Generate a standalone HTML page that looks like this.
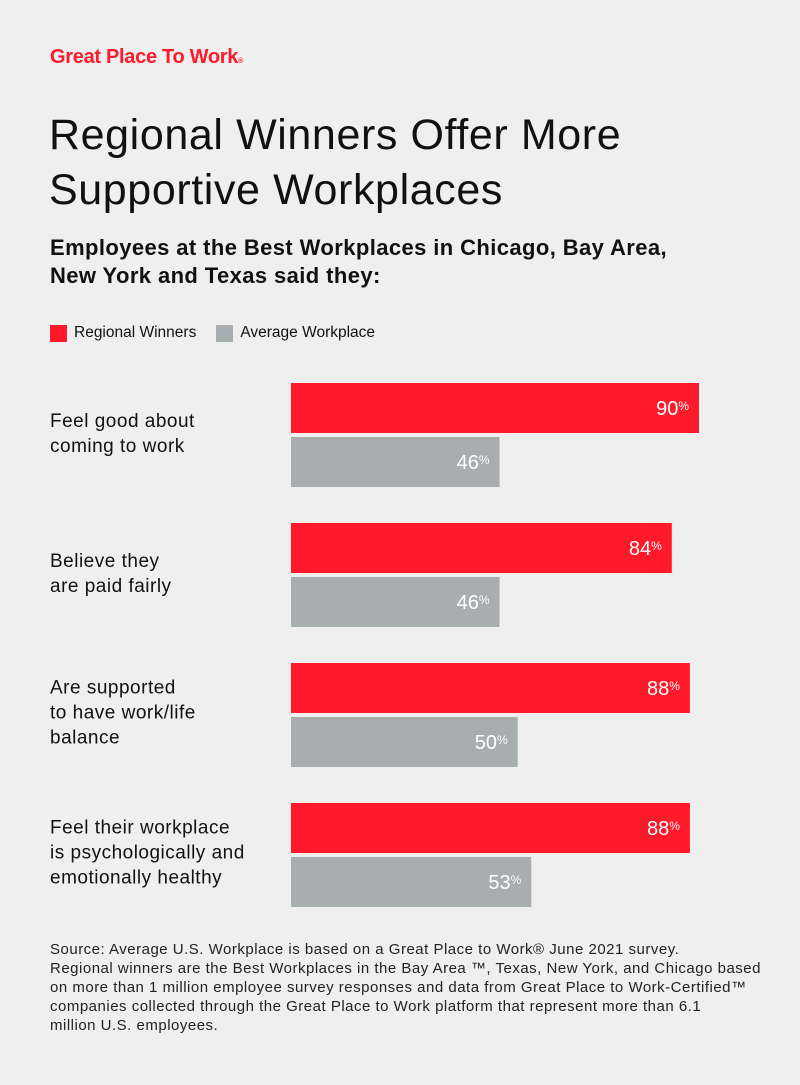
<!DOCTYPE html>
<html><head><meta charset="utf-8"><style>
body{margin:0;width:800px;height:1085px;background:#eeefee;font-family:"Liberation Sans",sans-serif;color:#111;position:relative;overflow:hidden}
.a{position:absolute;margin:0;white-space:nowrap}
</style></head><body>
<div class="a" style="left:50px;top:46px;font-size:20px;font-weight:bold;color:#ff1a2b;letter-spacing:-0.3px">Great Place To Work<span style="font-size:7px">®</span></div>
<h1 class="a" style="left:49px;top:108px;font-size:43px;font-weight:normal;line-height:55px;letter-spacing:0.6px">Regional Winners Offer More<br>Supportive Workplaces</h1>
<div class="a" style="left:50px;top:234px;font-size:22px;font-weight:bold;line-height:28px;letter-spacing:0.4px;color:#111">Employees at the Best Workplaces in Chicago, Bay Area,<br>New York and Texas said they:</div>
<div class="a" style="left:50px;top:324px;font-size:15.5px;display:flex;align-items:center">
<span style="width:17px;height:17px;background:#ff1a2b;display:inline-block;margin-right:7px"></span><span>Regional Winners</span>
<span style="width:17px;height:17px;background:#a8adb0;display:inline-block;margin:0 7px 0 20px"></span><span>Average Workplace</span></div>
<svg id="chart" class="a" style="left:0;top:0" width="800" height="1085"></svg>
<div class="a" style="left:50px;top:940px;font-size:15px;line-height:19px;letter-spacing:0.5px;color:#222">Source: Average U.S. Workplace is based on a Great Place to Work® June 2021 survey.<br>Regional winners are the Best Workplaces in the Bay Area ™, Texas, New York, and Chicago based<br>on more than 1 million employee survey responses and data from Great Place to Work-Certified™<br>companies collected through the Great Place to Work platform that represent more than 6.1<br>million U.S. employees.</div>
<script>
const categories=[["Feel good about","coming to work"],["Believe they","are paid fairly"],["Are supported","to have work/life","balance"],["Feel their workplace","is psychologically and","emotionally healthy"]];
const regionalValues=[90,84,88,88];
const averageValues=[46,46,50,53];
const svg=document.getElementById('chart');
const NS='http://www.w3.org/2000/svg';
const x0=291, pxPer=408/90;
const xScale=v=>v*pxPer;
const groupY=i=>383+i*140;
function bar(x,y,w,h,fill,label,name){
 const r=document.createElementNS(NS,'rect');
 r.setAttribute('x',x);r.setAttribute('y',y);r.setAttribute('width',w);r.setAttribute('height',h);r.setAttribute('fill',fill);
 
 
 svg.appendChild(r);
 const t=document.createElementNS(NS,'text');
 t.setAttribute('x',x+w-10);t.setAttribute('y',y+h/2+7);t.setAttribute('text-anchor','end');
 t.setAttribute('fill','#fff');t.setAttribute('font-size','20');t.setAttribute('font-family','Liberation Sans, sans-serif');
 t.innerHTML=label+'<tspan font-size="12" dy="-5">%</tspan>';
 
 
 svg.appendChild(t);
}
categories.forEach((c,i)=>{
 const y=groupY(i);
 bar(x0,y,xScale(regionalValues[i]),50,'#ff1a2b',regionalValues[i],'bar-regional-'+(i+1));
 bar(x0,y+54,xScale(averageValues[i]),50,'#a8adb0',averageValues[i],'bar-average-'+(i+1));
 const t=document.createElementNS(NS,'text');
 t.setAttribute('font-size','19');t.setAttribute('letter-spacing','0.5');t.setAttribute('font-family','Liberation Sans, sans-serif');t.setAttribute('fill','#111');
 const top=y+52-(c.length*25)/2+18-(c.length===2?1:2);
 c.forEach((line,j)=>{const s=document.createElementNS(NS,'tspan');s.setAttribute('x',50);s.setAttribute('y',top+j*25);s.textContent=line;t.appendChild(s);});
 
 
 svg.appendChild(t);
});
</script>
</body></html>
